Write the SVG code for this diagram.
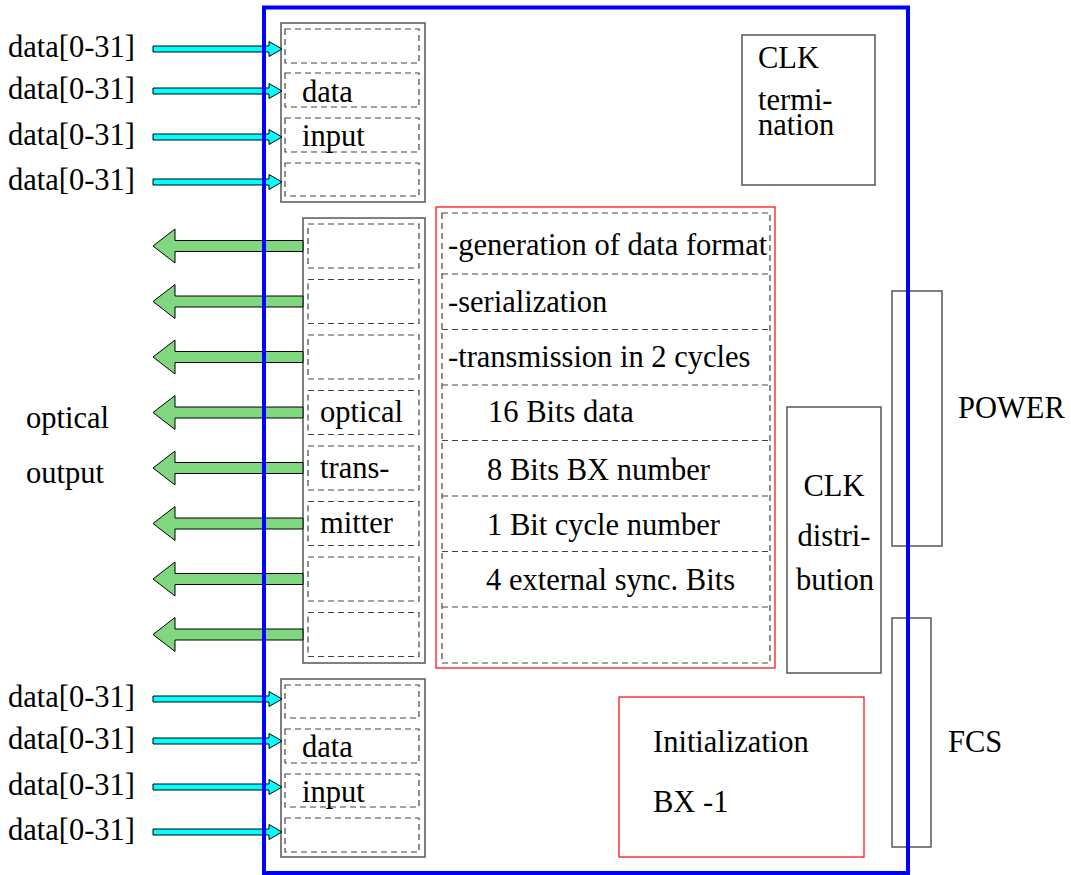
<svg xmlns="http://www.w3.org/2000/svg" width="1071" height="875" viewBox="0 0 1071 875" font-family="Liberation Serif, Times New Roman, serif" font-size="30.5">
<style>
text{font-family:Liberation Serif, Times New Roman, serif;font-size:30.5px;fill:#000}
.box{fill:#fff;stroke:#555;stroke-width:1.5}
.dash{fill:none;stroke:#444;stroke-width:1.2;stroke-dasharray:6,4}
.red{fill:#fff;stroke:#f00;stroke-width:1.2}
.cyan{fill:#00ffff;stroke:#000;stroke-width:1}
.green{fill:#7fd77f;stroke:#000;stroke-width:1}
.mid{text-anchor:middle}
</style>
<defs>
<polygon id="inArrow" class="cyan" points="0,-3 116,-3 116,-7.5 129,0 116,7.5 116,3 0,3"/>
<polygon id="outArrow" class="green" points="150,-5.5 22,-5.5 22,-17 0,0 22,17 22,5.5 150,5.5"/>
</defs>
<rect width="1071" height="875" fill="#fff"/>

<g id="data-input-top">
<rect class="box" x="281" y="23" width="144" height="179"/>
<rect class="dash" x="285" y="29" width="134" height="34"/>
<rect class="dash" x="285" y="73" width="134" height="34"/>
<rect class="dash" x="285" y="118" width="134" height="34"/>
<rect class="dash" x="285" y="163" width="134" height="33"/>
<text x="302" y="102">data</text>
<text x="302" y="146">input</text>
</g>

<g id="data-input-bottom">
<rect class="box" x="281" y="679" width="144" height="178"/>
<rect class="dash" x="285" y="685" width="134" height="33"/>
<rect class="dash" x="285" y="729" width="134" height="34"/>
<rect class="dash" x="285" y="774" width="134" height="33"/>
<rect class="dash" x="285" y="818" width="134" height="34"/>
<text x="302" y="757">data</text>
<text x="302" y="802">input</text>
</g>

<g id="optical-transmitter">
<rect class="box" x="303" y="218" width="122" height="445"/>
<rect class="dash" x="308" y="224" width="111" height="44"/>
<rect class="dash" x="308" y="279.5" width="111" height="44"/>
<rect class="dash" x="308" y="335" width="111" height="44"/>
<rect class="dash" x="308" y="390.5" width="111" height="44"/>
<rect class="dash" x="308" y="446" width="111" height="44"/>
<rect class="dash" x="308" y="501.5" width="111" height="44"/>
<rect class="dash" x="308" y="557" width="111" height="44"/>
<rect class="dash" x="308" y="612.5" width="111" height="44"/>
<text x="320" y="422">optical</text>
<text x="320" y="478">trans-</text>
<text x="320" y="533">mitter</text>
</g>

<g id="data-format">
<rect class="red" x="436" y="207" width="339" height="461"/>
<rect class="dash" x="442" y="213" width="328" height="450"/>
<path class="dash" d="M442,274H770M442,329.5H770M442,385H770M442,440.5H770M442,496H770M442,551.5H770M442,607H770"/>
<text x="448" y="255">-generation of data format</text>
<text x="448" y="312">-serialization</text>
<text x="448" y="367">-transmission in 2 cycles</text>
<text x="488" y="422">16 Bits data</text>
<text x="487" y="480">8 Bits BX number</text>
<text x="487" y="535">1 Bit cycle number</text>
<text x="486" y="590">4 external sync. Bits</text>
</g>

<g id="clk-termination">
<rect class="box" x="742" y="35" width="133" height="150"/>
<text x="758" y="68">CLK</text>
<text x="758" y="110">termi-</text>
<text x="758" y="135">nation</text>
</g>

<g id="clk-distribution">
<rect class="box" x="787" y="407" width="94" height="266"/>
<text class="mid" x="834" y="496">CLK</text>
<text class="mid" x="834" y="546">distri-</text>
<text class="mid" x="835" y="590">bution</text>
</g>

<g id="initialization">
<rect class="red" x="619" y="697" width="245" height="160"/>
<text x="653" y="752">Initialization</text>
<text x="653" y="812">BX -1</text>
</g>

<g id="power">
<rect class="box" x="892" y="291" width="50" height="255"/>
<text x="958" y="418">POWER</text>
</g>

<g id="fcs">
<rect class="box" x="892" y="618" width="39" height="229"/>
<text x="948" y="752">FCS</text>
</g>

<g id="labels">
<text x="8" y="57">data[0-31]</text>
<text x="8" y="99">data[0-31]</text>
<text x="8" y="145">data[0-31]</text>
<text x="8" y="190">data[0-31]</text>
<text x="8" y="707">data[0-31]</text>
<text x="8" y="749">data[0-31]</text>
<text x="8" y="795">data[0-31]</text>
<text x="8" y="840">data[0-31]</text>
<text x="26" y="428">optical</text>
<text x="26" y="483">output</text>
</g>

<g id="connectors">
<use href="#inArrow" x="153" y="49"/>
<use href="#inArrow" x="153" y="91"/>
<use href="#inArrow" x="153" y="137"/>
<use href="#inArrow" x="153" y="182"/>
<use href="#inArrow" x="153" y="699"/>
<use href="#inArrow" x="153" y="741"/>
<use href="#inArrow" x="153" y="787"/>
<use href="#inArrow" x="153" y="832"/>
<use href="#outArrow" x="153" y="246"/>
<use href="#outArrow" x="153" y="301.5"/>
<use href="#outArrow" x="153" y="357"/>
<use href="#outArrow" x="153" y="412.5"/>
<use href="#outArrow" x="153" y="468"/>
<use href="#outArrow" x="153" y="523.5"/>
<use href="#outArrow" x="153" y="579"/>
<use href="#outArrow" x="153" y="634.5"/>
</g>

<g id="board-frame">
<rect x="264" y="7.5" width="644" height="865.5" fill="none" stroke="#0000ff" stroke-width="4"/>
</g>
</svg>
